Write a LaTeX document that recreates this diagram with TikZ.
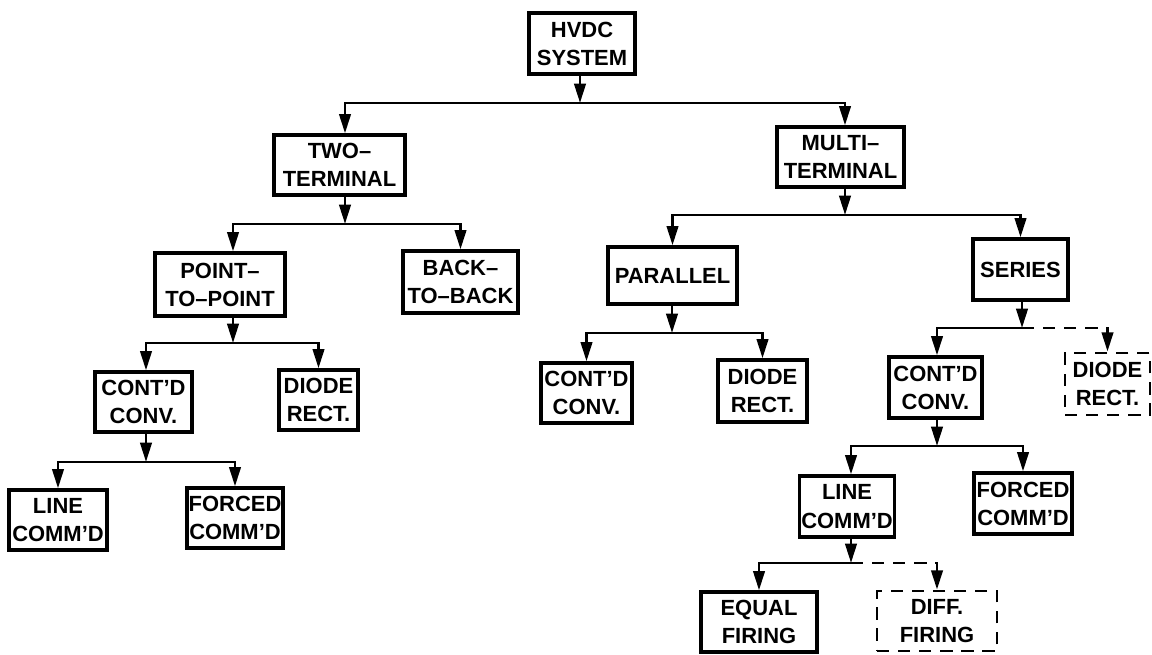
\documentclass[tikz,border=0pt]{standalone}
\usepackage{fontspec}
\setmainfont{Liberation Sans}
\usepackage{tikz}
\usetikzlibrary{arrows.meta}
\usetikzlibrary{positioning}

\begin{document}
\begin{tikzpicture}[
  x=0.02cm, y=-0.02cm,
  every node/.style={
    draw, line width=1.9pt, align=center, inner sep=0.5pt,
    font=\fontsize{12.5}{16}\selectfont\bfseries
  },
  dbox/.style={line width=1.6pt, dash pattern=on 7pt off 5pt},
  arr/.style={-{Triangle[length=11pt,width=6.5pt]}, line width=1.6pt},
  darr/.style={arr, dash pattern=on 7pt off 5pt}
]
\useasboundingbox (0,0) rectangle (1152,654);

\node[minimum width=2.12cm, minimum height=1.22cm] (hvdc) at (582,43.5) {HVDC\\SYSTEM};
\node[minimum width=2.62cm, minimum height=1.20cm] (two) at (339.5,165) {TWO--\\TERMINAL};
\node[minimum width=2.54cm, minimum height=1.20cm] (multi) at (840.5,157) {MULTI--\\TERMINAL};
\node[minimum width=2.60cm, minimum height=1.26cm] (p2p) at (220,284.5) {POINT--\\TO--POINT};
\node[minimum width=2.30cm, minimum height=1.24cm] (b2b) at (460.5,282) {BACK--\\TO--BACK};
\node[minimum width=2.58cm, minimum height=1.14cm] (par) at (672.5,275.5) {PARALLEL};
\node[minimum width=1.90cm, minimum height=1.22cm] (ser) at (1020.5,269.5) {SERIES};
\node[minimum width=1.94cm, minimum height=1.20cm] (cc1) at (143.5,402) {CONT'D\\CONV.};
\node[minimum width=1.58cm, minimum height=1.20cm] (dr1) at (318.5,400) {DIODE\\RECT.};
\node[minimum width=1.82cm, minimum height=1.20cm] (cc2) at (586.5,393) {CONT'D\\CONV.};
\node[minimum width=1.78cm, minimum height=1.24cm] (dr2) at (762.5,391) {DIODE\\RECT.};
\node[minimum width=1.86cm, minimum height=1.22cm] (cc3) at (935.5,387.5) {CONT'D\\CONV.};
\node[dbox, minimum width=1.70cm, minimum height=1.24cm] (dr3) at (1107.5,384) {DIODE\\RECT.};
\node[minimum width=1.96cm, minimum height=1.20cm] (lc1) at (58,520) {LINE\\COMM'D};
\node[minimum width=1.92cm, minimum height=1.20cm] (fc1) at (235,518) {FORCED\\COMM'D};
\node[minimum width=1.90cm, minimum height=1.22cm] (lc2) at (847,506.5) {LINE\\COMM'D};
\node[minimum width=1.96cm, minimum height=1.22cm] (fc2) at (1023,503.5) {FORCED\\COMM'D};
\node[minimum width=2.32cm, minimum height=1.20cm] (eq) at (759,622) {EQUAL\\FIRING};
\node[dbox, minimum width=2.40cm, minimum height=1.20cm] (diff) at (937,621) {DIFF.\\FIRING};

\coordinate (j1) at (580,103);
\coordinate (j2) at (345,224);
\coordinate (j3) at (845,215);
\coordinate (j4) at (233,343);
\coordinate (j5) at (672,333);
\coordinate (j6) at (1022,328);
\coordinate (j7) at (146,462);
\coordinate (j8) at (937,446);
\coordinate (j9) at (851,563);

\draw[arr] (hvdc.south -| j1) -- (j1);
\draw[arr] (j1) -| (two.north -| j2);
\draw[arr] (j1) -| (multi.north -| j3);

\draw[arr] (two.south -| j2) -- (j2);
\draw[arr] (j2) -| (p2p.north -| j4);
\draw[arr] (j2) -| (b2b);

\draw[arr] (multi.south -| j3) -- (j3);
\draw[arr] (j3) -| (par);
\draw[arr] (j3) -| (ser);

\draw[arr] (p2p.south -| j4) -- (j4);
\draw[arr] (j4) -| (cc1.north -| j7);
\draw[arr] (j4) -| (dr1);

\draw[arr] (par.south -| j5) -- (j5);
\draw[arr] (j5) -| (cc2);
\draw[arr] (j5) -| (dr2);

\draw[arr] (ser.south -| j6) -- (j6);
\draw[arr] (j6) -| (cc3.north -| j8);
\draw[darr] (j6) -| (dr3);

\draw[arr] (cc1.south -| j7) -- (j7);
\draw[arr] (j7) -| (lc1);
\draw[arr] (j7) -| (fc1);

\draw[arr] (cc3.south -| j8) -- (j8);
\draw[arr] (j8) -| (lc2.north -| j9);
\draw[arr] (j8) -| (fc2);

\draw[arr] (lc2.south -| j9) -- (j9);
\draw[arr] (j9) -| (eq);
\draw[darr] (j9) -| (diff);

\end{tikzpicture}
\end{document}
